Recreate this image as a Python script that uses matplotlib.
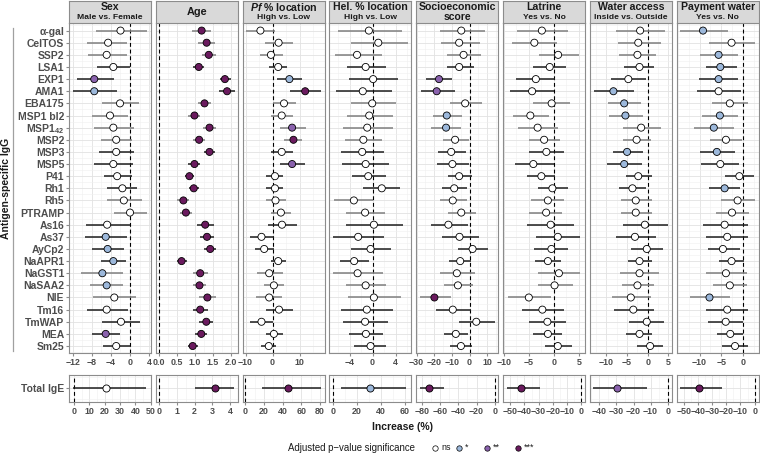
import numpy as np
import matplotlib
matplotlib.use("Agg")
import matplotlib.pyplot as plt
from matplotlib.ticker import AutoMinorLocator

plt.rcParams['font.family'] = ['Liberation Sans', 'DejaVu Sans']
plt.rcParams['mathtext.fontset'] = 'custom'
plt.rcParams['mathtext.rm'] = 'Liberation Sans:bold'
plt.rcParams['mathtext.bf'] = 'Liberation Sans:bold'
plt.rcParams['mathtext.it'] = 'Liberation Sans:italic:bold'

# Rows (top to bottom)
antigens = ["α-gal", "CelTOS", "SSP2", "LSA1", "EXP1", "AMA1", "EBA175", "MSP1 bl2",
            "MSP1$_{42}$", "MSP2", "MSP3", "MSP5", "P41", "Rh1", "Rh5", "PTRAMP",
            "As16", "As37", "AyCp2", "NaAPR1", "NaGST1", "NaSAA2", "NIE", "Tm16",
            "TmWAP", "MEA", "Sm25"]
grey_rows = [0, 1, 2, 6, 7, 8, 9, 14, 15, 20, 21, 22]

# Sex (Male vs. Female)
sex_est = [-2.0, -4.6, -4.9, -3.5, -7.5, -7.5, -2.1, -4.2, -3.5, -2.9, -2.9, -3.5, -2.7, -1.6,
           -1.3, 0.0, -4.8, -5.1, -4.7, -3.5, -5.8, -4.9, -3.3, -4.9, -1.9, -5.1, -2.9]
sex_lo = [-7.2, -9.0, -8.8, -6.9, -11.2, -11.9, -5.8, -7.9, -7.5, -6.1, -6.5, -7.5, -5.5, -4.8,
          -4.8, -3.4, -9.3, -9.5, -7.9, -6.1, -10.2, -8.4, -7.7, -9.1, -5.8, -7.9, -5.6]
sex_hi = [3.5, -0.7, -0.7, 0.0, -3.4, -2.8, 1.8, -0.4, 0.8, 0.4, 0.8, 0.7, 0.4, 1.5,
          2.5, 3.5, 0.0, -0.7, -1.3, -0.8, -1.5, -1.4, 1.2, -0.5, 2.1, -2.2, -0.1]
sex_sig = ["ns", "ns", "ns", "ns", "**", "*", "ns", "ns", "ns", "ns", "ns", "ns", "ns", "ns",
           "ns", "ns", "ns", "*", "*", "*", "*", "*", "ns", "ns", "ns", "**", "ns"]

# Age
age_est = [1.19, 1.33, 1.39, 1.11, 1.84, 1.90, 1.27, 0.99, 1.41, 1.12, 1.41, 0.99, 0.85, 0.97,
           0.68, 0.75, 1.29, 1.34, 1.43, 0.63, 1.15, 1.13, 1.35, 1.15, 1.32, 1.18, 0.94]
age_lo = [0.93, 1.10, 1.19, 0.96, 1.69, 1.67, 1.08, 0.82, 1.22, 0.96, 1.25, 0.82, 0.73, 0.84,
          0.51, 0.58, 1.06, 1.15, 1.26, 0.49, 0.94, 0.96, 1.12, 0.94, 1.13, 1.01, 0.80]
age_hi = [1.45, 1.56, 1.58, 1.25, 2.02, 2.12, 1.46, 1.15, 1.60, 1.28, 1.56, 1.15, 0.98, 1.12,
          0.84, 0.92, 1.53, 1.53, 1.60, 0.77, 1.36, 1.30, 1.58, 1.36, 1.51, 1.34, 1.08]
age_sig = ["***"] * 27

# Pf % location (High vs. Low)
pf_est = [-4.5, 2.25, -0.6, 2.1, 6.25, 12.1, 4.25, 3.4, 7.25, 7.75, 3.4, 7.25, 0.9, 0.9,
          1.1, 3.1, 3.5, -4.1, -3.1, 2.1, -1.25, 0.5, -1.25, 2.4, -4.1, 0.5, -1.4]
pf_lo = [-9.7, -2.9, -4.75, -1.4, 1.75, 6.5, 0.25, -0.6, 2.75, 4.4, -0.4, 2.75, -2.25, -2.25,
         -2.5, -0.75, -1.6, -8.5, -6.6, -0.6, -5.75, -3.25, -6.0, -2.5, -8.25, -2.5, -4.1]
pf_hi = [0.9, 7.5, 3.75, 5.5, 11.1, 18.0, 8.6, 7.75, 12.4, 11.1, 7.5, 12.1, 4.0, 4.0,
         5.0, 6.9, 9.0, 0.5, 0.5, 4.9, 3.75, 4.4, 3.6, 7.4, 0.0, 3.75, 1.25]
pf_sig = ["ns", "ns", "ns", "ns", "*", "***", "ns", "ns", "**", "***", "ns", "**", "ns", "ns",
          "ns", "ns", "ns", "ns", "ns", "ns", "ns", "ns", "ns", "ns", "ns", "ns", "ns"]

# Hel. % location (High vs. Low)
hel_est = [-0.64, 1.0, -2.7, -1.2, 0.1, -1.7, -0.06, -0.58, -0.93, -1.6, -1.8, -1.2, -0.75, 1.6,
           -3.25, -1.3, 0.23, -2.5, -0.35, -3.2, -2.6, -1.2, 0.23, -1.0, -1.3, -1.16, -0.35]
hel_lo = [-6.0, -3.8, -6.55, -4.5, -4.1, -6.4, -3.8, -4.4, -5.1, -4.8, -5.4, -5.3, -3.65, -1.6,
          -6.7, -4.7, -4.6, -6.8, -3.8, -5.7, -6.8, -4.7, -4.35, -5.4, -5.2, -4.05, -3.2]
hel_hi = [5.2, 6.1, 1.6, 2.3, 4.5, 3.3, 4.0, 3.5, 3.6, 1.7, 2.0, 2.8, 2.3, 4.75,
          0.0, 2.1, 5.3, 2.0, 3.2, -0.58, 1.9, 2.4, 4.9, 3.6, 2.7, 1.85, 2.4]
hel_sig = ["ns"] * 27

# Socioeconomic score
soc_est = [-4.7, -5.9, -3.4, -5.9, -17.3, -18.6, -2.5, -12.9, -13.3, -8.2, -10.4, -9.7, -5.9, -8.7,
           -9.5, -4.7, -12.0, -5.7, 1.7, -5.3, -7.2, -6.6, -19.9, -9.5, 3.8, -7.8, -4.9]
soc_lo = [-16.7, -16.3, -12.5, -12.9, -24.9, -27.5, -11.0, -20.5, -21.8, -15.2, -17.6, -18.2, -12.3, -15.7,
          -16.7, -12.3, -21.8, -15.4, -6.3, -11.4, -16.7, -14.2, -28.1, -19.0, -5.9, -14.2, -11.0]
soc_hi = [8.9, 5.7, 6.6, 2.3, -9.7, -8.5, 7.0, -4.4, -4.7, -0.2, -1.9, -0.2, 1.3, -1.5,
          -1.5, 3.6, -1.1, 5.1, 10.4, 0.8, 3.2, 1.9, -10.6, 0.8, 14.2, -1.1, 1.3]
soc_sig = ["ns", "ns", "ns", "ns", "**", "**", "ns", "*", "*", "ns", "ns", "ns", "ns", "ns",
           "ns", "ns", "ns", "ns", "ns", "ns", "ns", "ns", "***", "ns", "ns", "ns", "ns"]

# Latrine (Yes vs. No)
lat_est = [-2.4, -3.9, 0.84, -0.84, -3.6, -4.35, -0.45, -4.7, -3.25, -1.95, -1.5, -4.1, -2.5, -0.3,
           -1.2, -1.55, -0.65, 0.78, -0.5, -1.2, 1.0, 0.13, -5.0, -2.3, -1.3, -1.2, 0.78]
lat_lo = [-7.3, -8.3, -3.05, -4.1, -7.5, -8.8, -4.1, -8.25, -7.1, -4.9, -4.9, -7.8, -5.3, -3.25,
          -4.5, -4.9, -5.3, -3.6, -3.9, -3.8, -3.25, -3.25, -9.1, -6.4, -5.0, -4.1, -1.8]
lat_hi = [2.9, 0.65, 5.0, 2.4, 0.3, 0.0, 3.25, -1.0, 0.84, 1.3, 1.95, 0.0, 0.3, 2.9,
          2.1, 1.7, 4.1, 5.3, 2.8, 1.4, 5.3, 3.8, -0.65, 1.95, 2.5, 1.6, 3.6]
lat_sig = ["ns"] * 27

# Water access (Inside vs. Outside)
wat_est = [-1.85, -2.3, -2.5, -2.0, -4.7, -8.3, -5.7, -5.4, -1.6, -2.7, -5.0, -5.7, -2.3, -3.7,
           -2.9, -2.9, -0.7, -3.1, -0.24, -2.0, -2.0, -2.5, -4.1, -3.5, -0.24, -2.0, 0.56]
wat_lo = [-7.7, -7.3, -6.9, -5.7, -9.0, -13.0, -9.7, -9.3, -6.1, -6.1, -8.5, -9.9, -5.3, -6.9,
          -6.5, -6.5, -5.9, -7.7, -4.0, -4.8, -6.7, -6.3, -8.7, -8.1, -4.5, -5.2, -2.5]
wat_hi = [4.2, 3.1, 2.0, 1.5, -0.4, -3.3, -1.7, -1.2, 3.1, 0.8, -1.2, -1.3, 1.0, -0.5,
          1.0, 1.0, 4.8, 1.9, 3.6, 1.0, 2.8, 1.5, 0.8, 1.4, 4.0, 1.1, 3.6]
wat_sig = ["ns", "ns", "ns", "ns", "ns", "*", "*", "*", "ns", "ns", "*", "*", "ns", "ns",
           "ns", "ns", "ns", "ns", "ns", "ns", "ns", "ns", "ns", "ns", "ns", "ns", "ns"]

# Payment water (Yes vs. No)
pay_est = [-9.2, -2.6, -5.6, -5.2, -5.6, -5.6, -3.0, -5.3, -6.7, -3.9, -6.0, -5.2, -0.8, -4.2,
           -1.2, -2.5, -4.2, -3.6, -4.6, -2.6, -3.9, -3.0, -7.7, -3.6, -3.95, -2.9, -1.8]
pay_lo = [-14.5, -7.75, -10.0, -8.5, -10.1, -10.6, -7.1, -9.5, -11.2, -7.5, -9.8, -9.6, -4.0, -7.7,
          -5.0, -6.2, -9.3, -8.4, -8.1, -5.4, -8.5, -6.9, -12.3, -8.4, -8.0, -6.0, -4.8]
pay_hi = [-3.4, 2.8, -1.2, -1.3, -1.1, -0.5, 1.2, -1.1, -2.1, -0.3, -1.9, -0.8, 2.6, -0.7,
          2.8, 1.4, 1.2, 1.2, -0.7, 0.2, 1.0, 1.0, -3.0, 1.2, 0.1, 0.1, 1.2]
pay_sig = ["*", "ns", "*", "*", "*", "ns", "ns", "*", "*", "ns", "*", "ns", "ns", "*",
           "ns", "ns", "ns", "ns", "ns", "ns", "ns", "ns", "*", "ns", "ns", "ns", "ns"]

# Total IgE, one value per column
ige_est = [20.6, 3.13, 45.7, 30.5, -72.6, -42.3, -29.8, -39.2]
ige_lo = [-0.8, 2.0, 18.0, 6.4, -82.6, -52.3, -43.5, -52.5]
ige_hi = [47.1, 4.23, 81.0, 61.0, -55.6, -29.4, -12.1, -22.9]
ige_sig = ["ns", "***", "***", "*", "***", "***", "**", "***"]

titles = ["Sex", "Age", "$\\mathit{Pf}$ % location", "Hel. % location", "Socioeconomic",
          "Latrine", "Water access", "Payment water"]
subtitles = ["Male vs. Female", None, "High vs. Low", "High vs. Low", "score",
             "Yes vs. No", "Inside vs. Outside", "Yes vs. No"]

panels = [(sex_est, sex_lo, sex_hi, sex_sig), (age_est, age_lo, age_hi, age_sig),
          (pf_est, pf_lo, pf_hi, pf_sig), (hel_est, hel_lo, hel_hi, hel_sig),
          (soc_est, soc_lo, soc_hi, soc_sig), (lat_est, lat_lo, lat_hi, lat_sig),
          (wat_est, wat_lo, wat_hi, wat_sig), (pay_est, pay_lo, pay_hi, pay_sig)]

top_ticks = [[-12, -8, -4, 0, 4], [0, 0.5, 1, 1.5, 2], [-10, 0, 10], [-4, 0, 4],
             [-30, -20, -10, 0, 10], [-10, -5, 0, 5], [-10, -5, 0, 5], [-10, -5, 0]]
top_lims = [(-12.8, 4.4), (-0.09, 2.2), (-11.1, 19.3), (-7.5, 6.75), (-30.2, 16.2),
            (-10.15, 6.2), (-14.0, 5.8), (-15.3, 3.65)]
bot_ticks = [[0, 10, 20, 30, 40, 50], [0, 1, 2, 3, 4], [0, 20, 40, 60, 80], [0, 20, 40, 60],
             [-80, -60, -40, -20, 0], [-50, -40, -30, -20, -10, 0], [-40, -30, -20, -10, 0],
             [-50, -40, -30, -20, -10, 0]]
bot_lims = [(-3.2, 50.2), (-0.19, 4.44), (-2.8, 85), (-3.1, 65.3), (-86.5, 3.9),
            (-55, 2.5), (-45.6, 2.4), (-55, 2.8)]

sig_colors = {"ns": "white", "*": "#9CB8DB", "**": "#8A62AD", "***": "#6A1A5E"}
GREY_TXT = "#4D4D4D"
BORDER = "#8C8C8C"

W, H = 760, 453
fig = plt.figure(figsize=(W / 100, H / 100), dpi=100)


def px(x0, y0, w, h):
    return [x0 / W, 1 - (y0 + h) / H, w / W, h / H]


def style_axes(ax, ticks, lims, fmt=None):
    ax.set_xlim(*lims)
    ax.set_xticks(ticks)
    if fmt:
        ax.set_xticklabels([fmt.format(t) for t in ticks])
    ax.xaxis.set_minor_locator(AutoMinorLocator(2))
    ax.set_axisbelow(True)
    ax.grid(which='major', color='#E2E2E2', lw=0.6)
    ax.grid(which='minor', color='#F0F0F0', lw=0.4)
    for s in ax.spines.values():
        s.set_color(BORDER)
        s.set_linewidth(0.8)
    ax.tick_params(axis='x', which='major', length=2, color=BORDER, pad=1.5,
                   labelsize=6.4, labelcolor=GREY_TXT)
    ax.tick_params(which='minor', length=0)
    for lab in ax.get_xticklabels():
        lab.set_fontweight('bold')
    ax.axvline(0, color='black', lw=0.8, ls=(0, (3.5, 2.5)), zorder=1.5)


n = len(antigens)
ypos = np.arange(n)
line_cols = ['#7F7F7F' if i in grey_rows else '#1E1E1E' for i in range(n)]
left0, pitch, pw = 69, 86.8, 82

for k, (est, lo, hi, sig) in enumerate(panels):
    x0 = left0 + k * pitch
    ax = fig.add_axes(px(x0, 23.3, pw, 329.4))
    ax.hlines(ypos, lo, hi, colors=line_cols, lw=1.1, zorder=2)
    ax.scatter(est, ypos, s=26, c=[sig_colors[s] for s in sig], edgecolors='black',
               linewidths=0.6, zorder=3)
    ax.set_ylim(n - 0.45, -0.6)
    ax.set_yticks(ypos)
    ax.set_yticks(np.arange(-0.5, n, 1), minor=True)
    style_axes(ax, top_ticks[k], top_lims[k], "{:.1f}" if k == 1 else None)
    if k == 0:
        ax.set_yticklabels(antigens)
        ax.tick_params(axis='y', which='major', length=2, color=BORDER, pad=1.5,
                       labelsize=7.5, labelcolor=GREY_TXT)
        for lab in ax.get_yticklabels():
            lab.set_fontweight('bold')
    else:
        ax.set_yticklabels([])
        ax.tick_params(axis='y', which='major', length=0)

    # facet strip
    hax = fig.add_axes(px(x0, 1.5, pw, 21.8))
    hax.set_facecolor('#D9D9D9')
    hax.set_xticks([])
    hax.set_yticks([])
    for s in hax.spines.values():
        s.set_color(BORDER)
        s.set_linewidth(0.8)
    if subtitles[k] is None:
        hax.text(0.5, 0.5, titles[k], ha='center', va='center', fontsize=7.8,
                 fontweight='bold', color='#1A1A1A', transform=hax.transAxes)
    else:
        sub_size = 7.5 if k == 4 else 6.1
        hax.text(0.5, 0.74, titles[k], ha='center', va='center', fontsize=7.6,
                 fontweight='bold', color='#1A1A1A', transform=hax.transAxes)
        hax.text(0.5, 0.28, subtitles[k], ha='center', va='center', fontsize=sub_size,
                 fontweight='bold', color='#1A1A1A', transform=hax.transAxes)

    # Total IgE row
    bax = fig.add_axes(px(x0, 375, pw, 26.7))
    bax.hlines([0], [ige_lo[k]], [ige_hi[k]], colors='#1E1E1E', lw=1.1, zorder=2)
    bax.scatter([ige_est[k]], [0], s=26, c=[sig_colors[ige_sig[k]]], edgecolors='black',
                linewidths=0.6, zorder=3)
    bax.set_ylim(-0.6, 0.6)
    bax.set_yticks([0])
    bax.set_yticks([-0.5, 0.5], minor=True)
    style_axes(bax, bot_ticks[k], bot_lims[k])
    if k == 0:
        bax.set_yticklabels(["Total IgE"])
        bax.tick_params(axis='y', which='major', length=2, color=BORDER, pad=1.5,
                        labelsize=7.5, labelcolor=GREY_TXT)
        for lab in bax.get_yticklabels():
            lab.set_fontweight('bold')
    else:
        bax.set_yticklabels([])
        bax.tick_params(axis='y', which='major', length=0)

# overlay in pixel coordinates for bracket and legend keys
ov = fig.add_axes([0, 0, 1, 1])
ov.set_xlim(0, W)
ov.set_ylim(H, 0)
ov.axis('off')
ov.plot([13, 13], [28, 351], color='#A0A0A0', lw=0.9)
fig.text(6.5 / W, 1 - 188 / H, "Antigen-specific IgG", rotation=90, ha='center', va='center',
         fontsize=7.5, fontweight='bold', color='#1A1A1A')

fig.text(402 / W, 1 - 427 / H, "Increase (%)", ha='center', va='center', fontsize=7.5,
         fontweight='bold', color='#1A1A1A')

leg_y = 447.7
fig.text(415 / W, 1 - leg_y / H, "Adjusted p\u2212value significance", ha='right', va='center',
         fontsize=6.9, color='#1A1A1A')
leg_labels = ["ns", "*", "**", "***"]
leg_x = [435, 458.5, 487, 517.5]
for lab, lx in zip(leg_labels, leg_x):
    ov.scatter([lx], [leg_y], s=15, c=[sig_colors[lab]], edgecolors='black', linewidths=0.5)
    fig.text((lx + 6) / W, 1 - leg_y / H, lab, ha='left', va='center', fontsize=6.4,
             color='#1A1A1A')

fig.savefig("out.png", dpi=100)
